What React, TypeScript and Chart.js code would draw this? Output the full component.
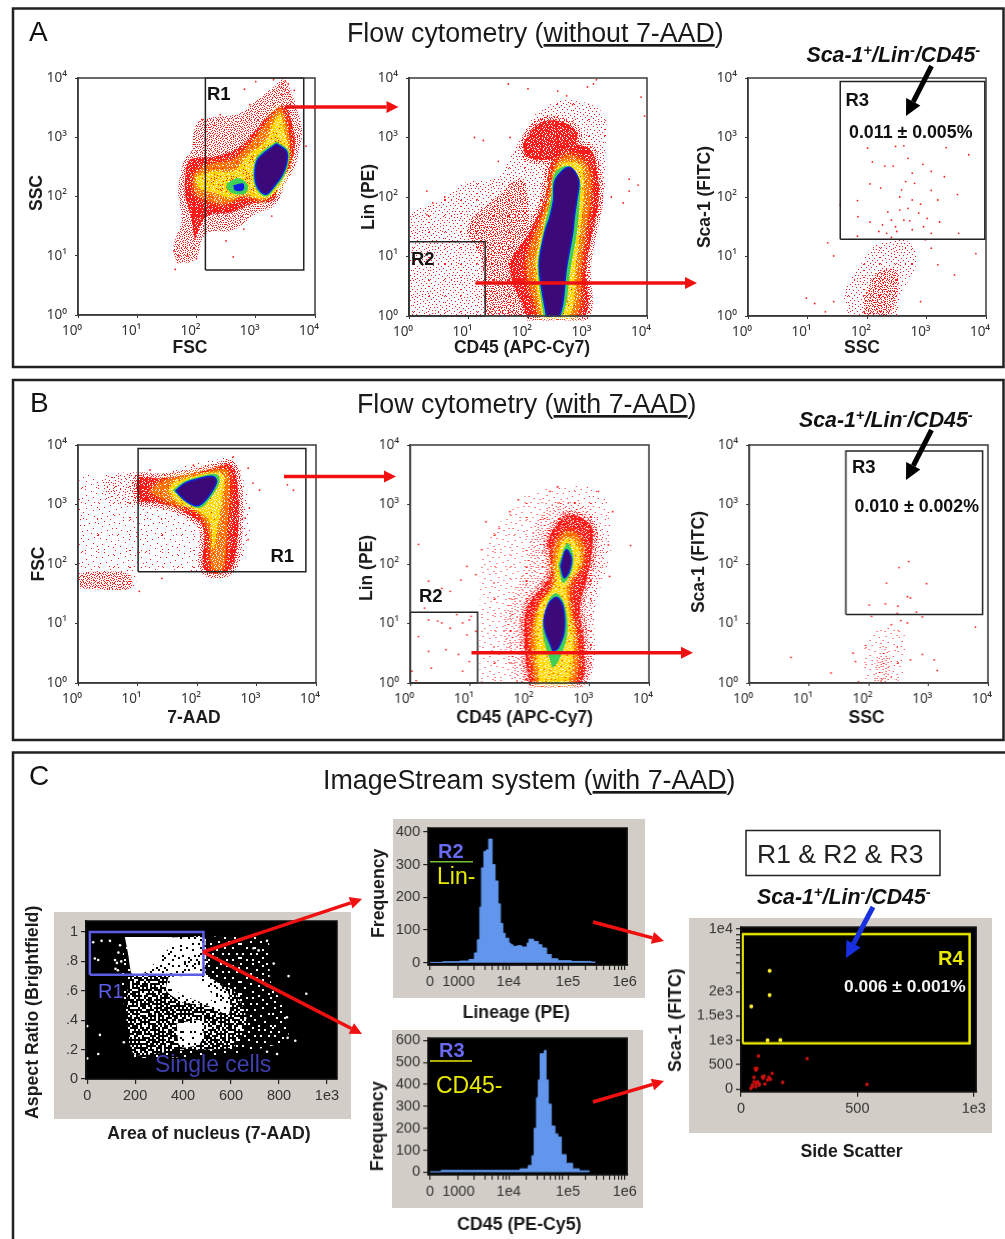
import React, { useEffect, useRef } from "react";
import { Chart, registerables } from "chart.js";

Chart.register(...registerables);

type P = [number, number];

// ---------- tick labels ----------
const decades = [0, 1, 2, 3, 4];
const decadeLabels = ["10⁰", "10¹", "10²", "10³", "10⁴"];

// ---------- Panel A, FSC / SSC (log10 of the channel values) ----------
const a1Sparse: P[] = [[1.67,.87],[1.97,.93],[2.17,1.38],[2.62,1.43],[3.02,1.72],[3.3,1.83],[3.47,2.17],[3.69,2.67],[3.78,3.12],[3.63,3.68],[3.47,3.97],[3.3,3.85],[3.02,3.63],[2.73,3.4],[2.4,3.35],[2.06,3.29],[1.95,3.07],[1.92,2.78],[1.75,2.45],[1.69,2.05],[1.75,1.6],[1.61,1.15]];
const a1Dense: P[] = [[1.97,1.27],[2.17,1.66],[2.57,1.72],[2.96,1.88],[3.3,1.94],[3.41,2.25],[3.58,2.5],[3.66,2.9],[3.58,3.35],[3.49,3.54],[3.24,3.4],[3.02,3.15],[2.85,2.95],[2.62,2.78],[2.28,2.67],[1.89,2.62],[1.81,2.33],[1.81,2],[1.89,1.72]];
const a1Orange: P[] = [[1.95,2.39],[2.28,2.56],[2.62,2.62],[2.96,2.95],[3.18,3.23],[3.41,3.49],[3.52,3.23],[3.58,2.84],[3.52,2.45],[3.35,2.11],[3.13,1.94],[2.79,2],[2.51,1.88],[2.17,1.94],[1.97,2.08]];
const a1Yellow: P[] = [[1.98,2.33],[2.28,2.42],[2.62,2.42],[2.88,2.7],[3.18,2.95],[3.3,3.23],[3.41,3.38],[3.49,3.07],[3.56,2.67],[3.47,2.33],[3.27,2.03],[3.07,1.97],[2.79,2.06],[2.57,1.98],[2.28,2.08],[2.06,2.14]];
const a1Green: P[] = [[3.35,2.93],[3.55,2.78],[3.55,2.55],[3.47,2.33],[3.35,2.17],[3.18,2],[3.04,2.08],[2.96,2.28],[2.99,2.62],[3.13,2.78]];
const a1Purple: P[] = [[3.35,2.89],[3.52,2.76],[3.52,2.56],[3.44,2.35],[3.33,2.2],[3.18,2.04],[3.06,2.11],[2.99,2.3],[3.02,2.6],[3.15,2.74]];
const a1SmallGreen: P[] = [[2.51,2.22],[2.71,2.31],[2.87,2.19],[2.82,2.05],[2.62,2.05],[2.51,2.14]];
const a1SmallBlue: P[] = [[2.62,2.19],[2.79,2.22],[2.79,2.11],[2.65,2.1]];
const a1Dots: P[] = [[1.64,.77],[1.62,1.08],[1.7,1],[1.85,1],[2,.95],[2.62,.98],[2.5,1.25],[2.8,1.45],[3.27,1.67],[3,3.94],[2.81,3.81],[3.3,3.97],[3.65,3.79],[3.85,2.85],[2.4,3.38],[2.3,3.2],[2.09,3.3],[2.9,3.55],[3.45,3.9],[3.5,3.95],[3.55,3.75],[3.4,3.85],[3.5,3.8],[3.55,3.9],[3.45,3.72],[3.6,3.6]];
const a1Gate: P[] = [[2.15,.76],[3.81,.76],[3.81,4],[2.15,4],[2.15,.76]];

// ---------- Panel A, CD45 / Lin ----------
const a2Sparse: P[] = [[.02,0],[.02,1.67],[.55,1.95],[.91,2.23],[1.48,2.34],[1.77,2.79],[1.99,3.18],[2.2,3.46],[2.69,3.63],[3.26,3.41],[3.3,2.79],[3.26,1.95],[3.01,1.11],[2.9,0]];
const a2Medium: P[] = [[1.27,0],[1.2,1],[.98,1.5],[1.48,2],[1.9,2.3],[2,1.4],[1.7,.8],[1.98,0]];
const a2Blob: P[] = [[1.91,2.9],[2.19,3.24],[2.55,3.27],[2.83,3.07],[2.69,2.68],[2.26,2.62],[1.98,2.68]];
const a2Dense: P[] = [[1.98,0],[1.69,.83],[2.01,1.39],[2.27,1.95],[2.37,2.51],[2.55,2.79],[2.7,2.9],[3.05,2.79],[3.15,2.51],[3.19,1.95],[3.08,1.39],[2.98,.83],[2.94,0]];
const a2Orange: P[] = [[2.16,0],[1.98,.83],[2.12,1.39],[2.33,1.95],[2.44,2.51],[2.69,2.71],[3.01,2.51],[3.05,1.95],[2.97,1.39],[2.9,.83],[2.8,0]];
const a2Yellow: P[] = [[2.23,0],[2.12,.83],[2.23,1.39],[2.38,1.95],[2.51,2.51],[2.69,2.59],[2.9,2.51],[2.93,1.95],[2.87,1.39],[2.8,.83],[2.69,0]];
const a2Green: P[] = [[2.26,0],[2.16,.83],[2.25,1.39],[2.38,1.95],[2.45,2.4],[2.69,2.52],[2.87,2.29],[2.87,1.95],[2.82,1.39],[2.72,.83],[2.57,0]];
const a2Purple: P[] = [[2.31,0],[2.19,.83],[2.28,1.39],[2.37,1.67],[2.43,1.95],[2.46,2.29],[2.69,2.5],[2.85,2.29],[2.82,1.95],[2.78,1.67],[2.75,1.39],[2.65,.83],[2.53,0]];
const a2Dots: P[] = [[1.67,3.9],[2,3.82],[2.5,3.78],[2.65,3.7],[2.75,3.55],[3,3.85],[3.15,3.97],[3.1,3.9],[3.9,3.68],[3.96,3.36],[3.2,2.2],[3.7,2.3],[3.85,2.2],[3.7,2.1],[3.4,2],[3.6,1.9],[1.1,3],[1.25,2.95],[.3,2.1],[.4,1.9],[.6,2],[.3,1.7],[1.5,2.6],[1.7,3]];
const a2Gate: P[] = [[0,0],[1.28,0],[1.28,1.25],[0,1.25],[0,0]];

// ---------- Panel A, SSC / Sca-1 ----------
const a3Medium: P[] = [[1.69,0],[1.62,.38],[1.87,.83],[2.19,1.22],[2.69,1.25],[2.83,.89],[2.55,.32],[2.48,0]];
const a3Dense: P[] = [[1.94,0],[1.98,.38],[2.16,.72],[2.48,.77],[2.51,.38],[2.33,0]];
const a3Dots: P[] = [[2.01,2.82],[2.48,2.85],[2.62,2.86],[3.33,2.83],[3.71,2.71],[2.09,2.59],[2.69,2.65],[2.94,2.55],[2.3,2.52],[2.44,2.52],[2.76,2.4],[3.08,2.43],[3.3,2.34],[2.05,2.22],[2.65,2.26],[2.8,2.23],[2.23,2.15],[3.08,2.11],[3.52,2.04],[1.84,1.94],[2.55,2],[2.76,1.95],[3.19,1.95],[1.85,1.67],[2.05,1.58],[2.41,1.61],[2.55,1.78],[2.69,1.81],[2.87,1.73],[3.01,1.64],[3.22,1.58],[2.26,1.53],[2.48,1.5],[2.62,1.61],[2.76,1.45],[3.08,1.39],[1.84,1.34],[2.33,1.39],[3.54,1.39],[2.41,1.32],[1.55,1.87],[1.34,1.23],[1.44,1.01],[.98,.3],[1.12,.21],[1.3,.07],[1.44,.24],[3.19,.86],[3.47,.69],[3.83,1.05],[2.9,.24],[3.08,1.14],[2.98,1.28],[2.58,2.12],[2.9,1.88],[2.35,1.75],[2.5,1.42],[2.72,1.6],[2.95,1.5],[2.2,1.42]];
const a3Gate: P[] = [[1.55,1.29],[3.98,1.29],[3.98,3.94],[1.55,3.94],[1.55,1.29]];

// ---------- Panel B, 7-AAD / FSC ----------
const b1Sparse: P[] = [[.02,1.59],[.93,1.59],[1.04,1.87],[2.61,1.87],[2.87,2.38],[2.89,2.94],[2.72,3.61],[2.61,3.8],[2.27,3.74],[1.83,3.66],[1.38,3.52],[.37,3.49],[.03,3.44],[.02,2.66]];
const b1Low: P[] = [[.03,1.59],[.87,1.59],[.87,1.82],[.37,1.87],[.03,1.82]];
const b1Band: P[] = [[.45,3.08],[1.05,3.0],[1.2,3.48],[.45,3.46]];
const b1Dense: P[] = [[1.01,3.05],[1.49,2.99],[1.88,2.82],[2.11,2.6],[2.13,1.9],[2.55,1.9],[2.69,2.55],[2.69,3.22],[2.58,3.66],[2.27,3.61],[1.83,3.5],[1.38,3.44],[1.01,3.44]];
const b1Orange: P[] = [[1.21,3.22],[1.55,3.02],[1.99,2.88],[2.19,2.55],[2.25,1.93],[2.44,1.93],[2.5,2.55],[2.55,3.27],[2.5,3.58],[2.16,3.55],[1.71,3.47],[1.38,3.38]];
const b1Yellow: P[] = [[1.52,3.24],[1.71,3.02],[1.99,2.91],[2.22,2.71],[2.27,2.27],[2.33,2.55],[2.41,3.05],[2.44,3.5],[2.16,3.52],[1.83,3.44],[1.6,3.36]];
const b1Green: P[] = [[1.59,3.24],[1.83,3.02],[2.05,2.94],[2.22,3.1],[2.38,3.38],[2.33,3.51],[2.05,3.47],[1.77,3.38]];
const b1Purple: P[] = [[1.64,3.23],[1.83,3.05],[2.02,2.98],[2.19,3.13],[2.33,3.38],[2.27,3.47],[2.05,3.44],[1.8,3.36]];
const b1Dots: P[] = [[1.41,1.76],[1.03,1.54],[3.62,3.24],[3.52,3.33],[3.05,3.24],[2.94,3.36],[2.86,3.61],[2.88,2.94],[2.61,3.8],[2.81,2.77],[2.86,2.41],[1.94,3.66],[1.21,3.58]];
const b1Gate: P[] = [[1.01,1.87],[3.83,1.87],[3.83,3.94],[1.01,3.94],[1.01,1.87]];

// ---------- Panel B, CD45 / Lin ----------
const b2Sparse: P[] = [[1.17,0],[1.17,1.26],[1.24,2.27],[1.67,2.88],[2.09,3.22],[3.16,3.22],[3.37,2.38],[3.09,1.26],[2.88,0]];
const b2Medium: P[] = [[1.75,0],[1.55,1],[1.9,1.9],[2.1,2.7],[2.5,3.05],[3.05,2.9],[3.25,2.2],[3.1,1.3],[2.95,0]];
const b2Dense: P[] = [[1.99,0],[1.91,.7],[1.95,1.26],[2.34,1.82],[2.31,2.38],[2.45,2.66],[2.66,2.83],[3.02,2.66],[3.06,2.38],[2.98,1.82],[2.84,1.26],[2.91,.7],[2.84,0]];
const b2Orange: P[] = [[2.09,0],[2.02,.7],[2.13,1.26],[2.38,1.65],[2.38,2.04],[2.45,2.38],[2.66,2.55],[2.88,2.38],[2.91,2.04],[2.7,1.65],[2.7,1.26],[2.8,.7],[2.73,0]];
const b2Yellow: P[] = [[2.16,0],[2.11,.7],[2.16,1.26],[2.43,1.65],[2.45,1.99],[2.52,2.32],[2.65,2.43],[2.8,2.32],[2.84,1.99],[2.62,1.65],[2.66,1.26],[2.73,.7],[2.62,0]];
const b2GreenLow: P[] = [[2.38,.25],[2.22,.87],[2.31,1.37],[2.45,1.51],[2.59,1.31],[2.63,.81],[2.48,.36]];
const b2PurpleLow: P[] = [[2.39,.53],[2.24,.98],[2.31,1.31],[2.45,1.44],[2.56,1.29],[2.58,.87],[2.48,.59]];
const b2GreenHigh: P[] = [[2.48,1.99],[2.63,2.35],[2.73,2.15],[2.7,1.87],[2.56,1.68]];
const b2PurpleHigh: P[] = [[2.52,1.96],[2.61,2.24],[2.7,2.1],[2.66,1.87],[2.58,1.77]];
const b2Dots: P[] = [[2.47,3.3],[2.34,3.22],[3.15,3.22],[3.39,2.88],[3.69,2.31],[3.32,2.32],[3.34,1.79],[3.09,2.49],[1.81,3.08],[1.67,2.88],[1.27,2.71],[1.49,2.6],[.14,2.33],[1.2,2.24],[.95,1.96],[.31,1.71],[.85,1.73],[.53,1.59],[1.1,1.82],[.67,1.54],[.24,1.26],[.31,1.06],[.46,1.04],[.53,1.01],[.14,.78],[.31,.53],[.35,.25],[.03,.2],[.6,.56],[.81,.48],[.95,.81],[1.02,1.12],[1.1,.87],[.99,.36],[.88,.2],[.78,1.15],[.1,.04],[.67,.92],[.99,1.06],[.88,1.01]];
const b2Gate: P[] = [[0,0],[1.13,0],[1.13,1.19],[0,1.19],[0,0]];

// ---------- Panel B, SSC / Sca-1 ----------
const b3Sparse: P[] = [[1.96,0],[1.92,.53],[2.06,.87],[2.53,.9],[2.63,.53],[2.46,0]];
const b3Dense: P[] = [[2.1,0],[2.13,.42],[2.31,.59],[2.38,.25],[2.38,0]];
const b3Dots: P[] = [[2.67,2.04],[2.51,1.94],[2.3,1.68],[2.97,1.67],[2.65,1.45],[2.7,1.43],[2.01,1.31],[2.28,1.33],[2.49,1.29],[2.48,1.17],[2.8,1.19],[2.9,1.11],[2.05,1.12],[3.79,.94],[2.54,1.05],[2.38,.98],[2.65,1.01],[.7,.43],[1.37,.17],[3.1,.39],[3.15,.21],[2.7,.39],[2.9,.48],[1.74,.5],[1.78,.36],[1.83,.02]];
const b3Gate: P[] = [[1.62,1.15],[3.91,1.15],[3.91,3.9],[1.62,3.9],[1.62,1.15]];

// ---------- Panel C, area of nucleus / aspect ratio ----------
const c1Sparse: P[] = [[164,.966],[485,.966],[750,.955],[764,.67],[833,.445],[833,.265],[610,.174],[192,.152],[171,.333],[137,.717]];
const c1Medium: P[] = [[374,.955],[485,.966],[499,.695],[610,.604],[666,.4],[610,.219],[387,.197],[192,.174],[178,.695]];
const c1DenseTop: P[] = [[300,.96],[490,.96],[490,.72],[230,.72]];
const c1DenseMid: P[] = [[340,.7],[500,.7],[590,.58],[590,.44],[500,.5],[400,.52],[330,.6]];
const c1SolidTop: P[] = [[157,.966],[332,.966],[374,.95],[318,.85],[234,.717],[185,.717],[171,.85]];
const c1SolidMid: P[] = [[346,.695],[457,.695],[527,.559],[499,.514],[415,.559],[346,.627]];
const c1DenseLow: P[] = [[373,.378],[485,.4],[471,.242],[387,.219]];
const c1Dots: P[] = [[25,.93],[60,.94],[95,.94],[46,.81],[32,.82],[116,.81],[130,.86],[137,.91],[53,.3],[46,.17],[153,.25],[0,.14],[0,.36],[914,.58],[836,.28],[868,.26],[833,.42],[750,.94],[694,.89],[715,.875],[778,.785],[840,.7],[792,.17],[750,.185],[118,.75],[124,.79],[142,.8],[128,.74]];
const c1Gate: P[] = [[11,.71],[485,.71],[485,1],[11,1],[11,.71]];

// ---------- Panel C, histograms (log10 intensity, frequency) ----------
const h1Bins = [2.67,2.89,3.17,3.33,3.42,3.47,3.51,3.54,3.58,3.62,3.66,3.7,3.72,3.77,3.82,3.86,3.9,3.94,4,4.03,4.07,4.14,4.22,4.31,4.34,4.42,4.5,4.56,4.64,4.72,4.83,5.06,5.39,5.46];
const h1Freq = [1,3,5,10,30,70,170,290,340,345,378,378,300,250,180,120,90,75,60,55,50,52,48,60,72,65,55,45,25,12,6,4,2,0];
const h2Bins = [2.67,2.86,3.36,3.86,4.19,4.33,4.39,4.43,4.47,4.5,4.53,4.6,4.63,4.67,4.72,4.78,4.83,4.89,4.97,5.08,5.19,5.36];
const h2Freq = [2,8,8,8,15,30,75,200,340,420,540,555,420,310,210,175,160,80,40,15,6,2];
const hTickPos = [2.67,3.15,3.42,3.6,3.72,3.82,3.9,3.96,4,4.3,4.48,4.6,4.7,4.78,4.85,4.9,5,5.3,5.48,5.6,5.7,5.78,5.85,5.9,5.96];
const hTickText: Record<string, string> = { "2.67": "0", "3.15": "1000", "4": "1e4", "5": "1e5", "5.96": "1e6" };
const h1YTicks = [0, 100, 200, 300, 400];
const h2YTicks = [0, 100, 200, 300, 400, 500, 600];

// ---------- Panel C, side scatter / Sca-1 (biexponential channel positions) ----------
const c3YTicks = [0,500,1000,1500,2000,2377,2596,2753,2890,2993,3062,3164,3281];
const c3YText: Record<string, string> = { "0": "0", "500": "500", "1000": "1e3", "1500": "1.5e3", "2000": "2e3", "3281": "1e4" };
const c3Yellow: P[] = [[123,2425],[123,1925],[44,1692],[114,1000],[169,1007]];
const c3Red: P[] = [[75,678],[284,623],[541,96],[179,137],[61,425],[69,425],[64,390],[56,240],[92,253],[99,267],[95,219],[120,240],[127,199],[114,185],[134,322],[56,151],[64,116],[71,151],[78,116],[49,82],[42,14],[49,48],[64,48],[78,82],[103,103]];
const c3Gate: P[] = [[7,938],[982,938],[982,3178],[7,3178],[7,938]];

// ---------- style ----------
const C = { red: "#ff1a1a", orange: "#ff7400", yellow: "#ffd800", green: "#3fd05a", blue: "#1020e0", purple: "#3c0a78", hist: "#6196ec", ink: "#1c1c1c", tick: "#333333" };
const TICK_FONT = "'Noto Sans', 'Liberation Sans', sans-serif";
const TILE_FAINT = ["#.............#.","................","...#............","................",".........#......","................","..............#.","................","....#...........","................","...........#....","#...............","................","......#.........","................","............#..."];
const TILE_SPARSE = ["#.....#......#..","...........#....","...#............","........#.....#.",".#..............",".....#.....#....","..............#.","...#....#.......","...........#....","#..............#",".....#..........",".........#...#..","..#.............","...........#....","......#.........","#.............#."];
const TILE_MEDIUM = ["#..#..#.#...#...","..#.....#.#...#.",".#..#.#....#...#","....#...#.#...#.","#.#...#.....#...","...#.#..#.#...#.",".#....#....#.#..","#..#....#.#....#","..#..#.#....#...","#.....#..#.#..#.","..#.#....#....#.",".#...#.#...#.#..","...#.....#....#.","#.#..#.#..#.#...","....#....#....#.",".#.#..#.#...#..#"];
const TILE_DENSE = ["###.####.###.###","#.####.###.#####","###.#.####.##.##",".#####.##.###.##","###.##.#####.###","##.#####.#.#####","####.##.###.##.#","#.######.####.##","###.#.####.#####","##.####.###.#.##","#####.###.####.#",".##.#####.#.####","####.#.#####.###","##.######.##.#.#","#.###.##.#####.#","####.####.#.####"];
const TILE_ORIENT = [0,5,2,7, 3,1,6,4, 6,2,7,0, 1,4,3,5];

// Stipple fill: the 16-cell tile is laid out 4×4 with flips, so the repeat is not visible.
function stipple(rows: string[], color: string, cell = 1) {
  const n = rows.length;
  const t = document.createElement("canvas");
  t.width = t.height = n * 4 * cell;
  const g = t.getContext("2d")!;
  g.fillStyle = color;
  TILE_ORIENT.forEach((o, q) => {
    const ox = (q % 4) * n, oy = Math.floor(q / 4) * n;
    rows.forEach((r, y) => [...r].forEach((c, x) => {
      if (c !== "#") return;
      let u = o & 1 ? n - 1 - x : x;
      let v = o & 2 ? n - 1 - y : y;
      if (o & 4) [u, v] = [v, u];
      g.fillRect((ox + u) * cell, (oy + v) * cell, cell, cell);
    }));
  });
  return g.createPattern(t, "repeat")!;
}

const asLog = (pts: P[]) => pts.map(([x, y]) => ({ x: 10 ** x, y: 10 ** y }));
const asLin = (pts: P[]) => pts.map(([x, y]) => ({ x, y }));
const area = (data: any[], fill: any, border?: any, bw = 1.5, tension = 0.35) => ({
  data: [...data, data[0]], showLine: true, fill: "shape", tension, backgroundColor: fill, borderColor: border ?? "transparent", borderWidth: border ? bw : 0, pointRadius: 0,
});
const dots = (data: any[], color: string, r = 0.9) => ({ data, showLine: false, pointRadius: r, pointBackgroundColor: color, pointBorderWidth: 0 });
const gate = (data: any[], color = "#222222", w = 1.5) => ({ data, showLine: true, fill: false, borderColor: color, borderWidth: w, pointRadius: 0 });

const frame = (bg?: string) => ({
  id: "frame",
  beforeDatasetsDraw(ch: any) {
    if (!bg) return;
    const { left, top, width, height } = ch.chartArea;
    ch.ctx.fillStyle = bg;
    ch.ctx.fillRect(left, top, width, height);
  },
  afterDatasetsDraw(ch: any) {
    const { left, top, width, height } = ch.chartArea;
    ch.ctx.strokeStyle = bg ? "#111111" : "#3a3a3a";
    ch.ctx.lineWidth = 1.5;
    ch.ctx.strokeRect(left, top, width, height);
  },
});

// Moves each axis title to the centre stored in the scale's titleAt option.
const titlePlacer = {
  id: "titlePlacer",
  afterLayout(ch: any) {
    Object.values(ch.scales).forEach((s: any) => {
      const at = s.options.titleAt as P;
      if (!at || s._placed) return;
      s._placed = true;
      const base = s.drawTitle;
      s.drawTitle = function () {
        const lh = s.options.title.font.size * 1.2;
        const dx = s.isHorizontal() ? at[0] - (s.left + s.right) / 2 : at[0] - (s.left + lh / 2);
        const dy = s.isHorizontal() ? at[1] - (s.bottom - lh / 2) : at[1] - (s.top + s.bottom) / 2;
        s.ctx.save();
        s.ctx.translate(dx, dy);
        base.call(s);
        s.ctx.restore();
      };
    });
  },
};

type Box = { l: number; t: number; r: number; b: number };
type Spec = {
  box: Box;
  m: { left: number; right: number; top: number; bottom: number };
  bg?: string;
  datasets: () => any[];
  x: any;
  y: any;
};

const flowAxis = (title: string, titleAt: P, isX: boolean) => ({
  type: "logarithmic",
  min: 1,
  max: 10000,
  afterBuildTicks: (s: any) => { s.ticks = decades.map((d) => ({ value: 10 ** d })); },
  ticks: {
    autoSkip: false,
    maxRotation: 0,
    minRotation: 0,
    color: C.tick,
    font: { family: TICK_FONT, size: 13.5 },
    padding: isX ? 5 : 8,
    labelOffset: isX ? -6 : 0,
    callback: (v: number) => decadeLabels[Math.round(Math.log10(v))],
  },
  grid: { drawOnChartArea: false, drawTicks: true, tickLength: 3, color: "#333333" },
  border: { color: "#3a3a3a", width: 1.5 },
  title: { display: true, text: title, color: C.ink, padding: 0, font: { family: "Liberation Sans", size: 17.5, weight: "bold" } },
  titleAt,
});

const cAxis = (title: string, titleAt: P, opts: any, vals: number[], label: (v: number) => string) => ({
  type: "linear",
  ...opts,
  afterBuildTicks: (s: any) => { s.ticks = vals.map((value) => ({ value })); },
  ticks: { autoSkip: false, maxRotation: 0, minRotation: 0, color: C.tick, font: { family: "Liberation Sans", size: 14.5 }, padding: 3, callback: (v: number) => label(v) },
  grid: { drawOnChartArea: false, drawTicks: true, tickLength: 5, color: "#222222", lineWidth: 1.2 },
  border: { color: "#111111", width: 1.5 },
  title: { display: true, text: title, color: C.ink, padding: 0, font: { family: "Liberation Sans", size: 17.7, weight: "bold" } },
  titleAt,
});

const flowM = { left: 60, right: 20, top: 22, bottom: 50 };
const t = {
  faint: () => stipple(TILE_FAINT, C.red),
  sparse: () => stipple(TILE_SPARSE, C.red),
  medium: () => stipple(TILE_MEDIUM, C.red),
  dense: () => stipple(TILE_DENSE, C.red),
  orange: () => stipple(TILE_DENSE, C.orange),
  yellow: () => stipple(TILE_DENSE, C.yellow),
  orangeEdge: () => stipple(TILE_MEDIUM, C.orange),
  yellowEdge: () => stipple(TILE_MEDIUM, C.yellow),
  whiteSparse: () => stipple(TILE_SPARSE, "#ffffff", 2),
  whiteMedium: () => stipple(TILE_MEDIUM, "#ffffff", 2),
  whiteDense: () => stipple(TILE_DENSE, "#ffffff", 2),
};
// one band of the density map: the dense red, orange and yellow areas fade out through a stippled edge
const redBand = (d: P[]) => area(asLog(d), t.dense(), t.medium(), 9);
const orangeBand = (d: P[]) => area(asLog(d), t.orange(), t.orangeEdge(), 7);
const yellowBand = (d: P[]) => area(asLog(d), t.yellow(), t.yellowEdge(), 5);

const specs: Spec[] = [
  {
    box: { l: 78, t: 78, r: 315, b: 315 }, m: flowM,
    x: flowAxis("FSC", [190, 348], true), y: flowAxis("SSC", [37, 193], false),
    datasets: () => [
      area(asLog(a1Sparse), t.medium()), redBand(a1Dense), orangeBand(a1Orange), yellowBand(a1Yellow),
      area(asLog(a1Green), C.green), area(asLog(a1Purple), C.purple, C.blue), area(asLog(a1SmallGreen), C.green), area(asLog(a1SmallBlue), C.blue),
      dots(asLog(a1Dots), C.red), gate(asLog(a1Gate)),
    ],
  },
  {
    box: { l: 408.7, t: 78, r: 647, b: 316 }, m: flowM,
    x: flowAxis("CD45 (APC-Cy7)", [521.7, 348], true), y: flowAxis("Lin (PE)", [369, 197], false),
    datasets: () => [
      area(asLog(a2Sparse), t.sparse()), area(asLog(a2Medium), t.medium()), redBand(a2Blob), redBand(a2Dense), orangeBand(a2Orange),
      yellowBand(a2Yellow), area(asLog(a2Green), C.green), area(asLog(a2Purple), C.purple, C.blue),
      dots(asLog(a2Dots), C.red), gate(asLog(a2Gate)),
    ],
  },
  {
    box: { l: 748, t: 78, r: 986, b: 316 }, m: flowM,
    x: flowAxis("SSC", [862, 348], true), y: flowAxis("Sca-1 (FITC)", [705.6, 197], false),
    datasets: () => [area(asLog(a3Medium), t.sparse()), area(asLog(a3Dense), t.medium()), dots(asLog(a3Dots), C.red), gate(asLog(a3Gate))],
  },
  {
    box: { l: 78, t: 445, r: 316, b: 683 }, m: flowM,
    x: flowAxis("7-AAD", [194, 718], true), y: flowAxis("FSC", [39, 564], false),
    datasets: () => [
      area(asLog(b1Sparse), t.faint()), area(asLog(b1Low), t.medium()), area(asLog(b1Band), t.sparse()), redBand(b1Dense), orangeBand(b1Orange),
      yellowBand(b1Yellow), area(asLog(b1Green), C.green), area(asLog(b1Purple), C.purple, C.blue),
      dots(asLog(b1Dots), C.red), gate(asLog(b1Gate)),
    ],
  },
  {
    box: { l: 410.4, t: 445, r: 648.7, b: 683 }, m: flowM,
    x: flowAxis("CD45 (APC-Cy7)", [524.5, 718], true), y: flowAxis("Lin (PE)", [367.6, 568], false),
    datasets: () => [
      area(asLog(b2Sparse), t.faint()), area(asLog(b2Medium), t.sparse()), redBand(b2Dense), orangeBand(b2Orange), yellowBand(b2Yellow),
      area(asLog(b2GreenLow), C.green), area(asLog(b2PurpleLow), C.purple, C.blue), area(asLog(b2GreenHigh), C.green), area(asLog(b2PurpleHigh), C.purple, C.blue),
      dots(asLog(b2Dots), C.red), gate(asLog(b2Gate)),
    ],
  },
  {
    box: { l: 749, t: 445, r: 987.6, b: 683 }, m: flowM,
    x: flowAxis("SSC", [866, 718], true), y: flowAxis("Sca-1 (FITC)", [699.6, 562], false),
    datasets: () => [area(asLog(b3Sparse), t.faint()), area(asLog(b3Dense), t.sparse()), dots(asLog(b3Dots), C.red), gate(asLog(b3Gate))],
  },
  {
    box: { l: 86, t: 920.7, r: 337, b: 1079.3 }, m: { left: 70, right: 10, top: 22, bottom: 70 }, bg: "#000000",
    x: cAxis("Area of nucleus (7-AAD)", [209, 1134], { min: -5, max: 1042 }, [0, 200, 400, 600, 800, 1000], (v) => (v === 1000 ? "1e3" : String(v))),
    y: cAxis("Aspect Ratio (Brightfield)", [33, 1012], { min: 0, max: 1.075 }, [0, 0.2, 0.4, 0.6, 0.8, 1], (v) => (v === 0 ? "0" : v === 1 ? "1" : String(v).slice(1))),
    datasets: () => [
      area(asLin(c1Sparse), t.whiteSparse(), undefined, 0, 0.2), area(asLin(c1Medium), t.whiteMedium(), undefined, 0, 0.2),
      area(asLin(c1DenseTop), t.whiteDense(), undefined, 0, 0.1), area(asLin(c1DenseMid), t.whiteDense(), undefined, 0, 0.2), area(asLin(c1DenseLow), t.whiteDense(), undefined, 0, 0.2),
      area(asLin(c1SolidTop), "#ffffff", undefined, 0, 0.15), area(asLin(c1SolidMid), "#ffffff", undefined, 0, 0.2), dots(asLin(c1Dots), "#ffffff", 1.3), gate(asLin(c1Gate), "#5c5ce6", 2.5),
    ],
  },
  {
    box: { l: 428.3, t: 827.7, r: 630, b: 965 }, m: { left: 60, right: 10, top: 22, bottom: 60 }, bg: "#000000",
    x: cAxis("Lineage (PE)", [516, 1013], { min: 2.64, max: 6 }, hTickPos, (v) => hTickText[String(v)] ?? ""),
    y: cAxis("Frequency", [379.3, 893], { min: -7, max: 412 }, h1YTicks, (v) => String(v)),
    datasets: () => [{ data: h1Bins.map((x, i) => ({ x, y: h1Freq[i] })), showLine: true, stepped: true, fill: "origin", backgroundColor: C.hist, borderColor: C.hist, borderWidth: 1, pointRadius: 0 }],
  },
  {
    box: { l: 428.3, t: 1038.3, r: 630, b: 1175 }, m: { left: 60, right: 10, top: 22, bottom: 60 }, bg: "#000000",
    x: cAxis("CD45 (PE-Cy5)", [519, 1224], { min: 2.64, max: 6 }, hTickPos, (v) => hTickText[String(v)] ?? ""),
    y: cAxis("Frequency", [378, 1126], { min: -12, max: 611 }, h2YTicks, (v) => String(v)),
    datasets: () => [{ data: h2Bins.map((x, i) => ({ x, y: h2Freq[i] })), showLine: true, stepped: true, fill: "origin", backgroundColor: C.hist, borderColor: C.hist, borderWidth: 1, pointRadius: 0 }],
  },
  {
    box: { l: 741, t: 927.3, r: 979.3, b: 1091.7 }, m: { left: 80, right: 10, top: 22, bottom: 70 }, bg: "#000000",
    x: cAxis("Side Scatter", [851.5, 1151.6], { min: 0, max: 1010 }, [0, 500, 1000], (v) => (v === 1000 ? "1e3" : String(v))),
    y: cAxis("Sca-1 (FITC)", [676, 1020], { min: -55, max: 3320 }, c3YTicks, (v) => c3YText[String(v)] ?? ""),
    datasets: () => [dots(asLin(c3Red), "#c81010", 1.8), dots(asLin(c3Yellow), "#ffee30", 2), gate(asLin(c3Gate), "#e8e800", 2.5)],
  },
];

function Plot({ spec }: { spec: Spec }) {
  const ref = useRef<HTMLCanvasElement>(null);
  const { box, m } = spec;
  const w = box.r - box.l + m.left + m.right;
  const h = box.b - box.t + m.top + m.bottom;
  const x0 = box.l - m.left;
  const y0 = box.t - m.top;
  useEffect(() => {
    const shift = (at: P): P => [at[0] - x0, at[1] - y0];
    const x = { ...spec.x, position: "bottom", titleAt: shift(spec.x.titleAt), afterFit: (s: any) => { s.height = m.bottom; } };
    const y = { ...spec.y, position: "left", titleAt: shift(spec.y.titleAt), afterFit: (s: any) => { s.width = m.left; } };
    const chart = new Chart(ref.current!, {
      type: "scatter",
      data: { datasets: spec.datasets().map((d, i, all) => ({ ...d, order: all.length - i })) },
      options: {
        animation: false,
        responsive: false,
        events: [],
        clip: false,
        layout: { autoPadding: false, padding: { top: m.top, right: m.right, left: 0, bottom: 0 } },
        plugins: { legend: { display: false }, tooltip: { enabled: false } },
        scales: { x, y },
      } as any,
      plugins: [frame(spec.bg), titlePlacer],
    } as any);
    return () => chart.destroy();
  }, []);
  return <canvas ref={ref} width={w} height={h} style={{ position: "absolute", left: x0, top: y0, width: w, height: h }} />;
}

const Arrow = ({ x1, y1, x2, y2, color, w = 3.5, head = 12, hw = 6 }: any) => {
  const a = Math.atan2(y2 - y1, x2 - x1);
  const c = Math.cos(a), s = Math.sin(a);
  const bx = x2 - head * c, by = y2 - head * s;
  return (
    <g>
      <line x1={x1} y1={y1} x2={bx} y2={by} stroke={color} strokeWidth={w} />
      <polygon points={`${x2},${y2} ${bx - hw * s},${by + hw * c} ${bx + hw * s},${by - hw * c}`} fill={color} />
    </g>
  );
};

const Sca = ({ x, y, size = 21.3 }: any) => (
  <text x={x} y={y} fontSize={size} fontWeight="bold" fontStyle="italic" fill="#111">
    Sca-1<tspan dy={-7} fontSize={size * 0.7}>+</tspan>
    <tspan dy={7}>/Lin</tspan><tspan dy={-7} fontSize={size * 0.7}>-</tspan>
    <tspan dy={7}>/CD45</tspan><tspan dy={-7} fontSize={size * 0.7}>-</tspan>
  </text>
);

const Txt = ({ x, y, s, c = "#111", w = "bold", children }: any) => (
  <text x={x} y={y} fontSize={s} fill={c} fontWeight={w}>{children}</text>
);

const Head = ({ x, y, pre, mark, post }: any) => (
  <text x={x} y={y} fontSize={26.8} fill="#1a1a1a">
    {pre}<tspan textDecoration="underline">{mark}</tspan>{post}
  </text>
);

const greys = [
  { l: 54.3, t: 912, r: 350.7, b: 1119 },
  { l: 393.3, t: 819.3, r: 645, b: 998.3 },
  { l: 392.3, t: 1030, r: 643.3, b: 1208.3 },
  { l: 689.3, t: 917.7, r: 991.7, b: 1132.7 },
];

export default function App() {
  return (
    <div style={{ position: "absolute", left: 0, top: 0, width: 1005, height: 1239, overflow: "hidden", background: "#fff", fontFamily: "'Liberation Sans', Arial, sans-serif", filter: "blur(0.35px)" }}>
      {greys.map((g, i) => (
        <div key={i} style={{ position: "absolute", left: g.l, top: g.t, width: g.r - g.l, height: g.b - g.t, background: "#d2cec7" }} />
      ))}
      {specs.map((s, i) => <Plot key={i} spec={s} />)}
      <svg width={1005} height={1239} style={{ position: "absolute", left: 0, top: 0, pointerEvents: "none" }} fontFamily="'Liberation Sans', Arial, sans-serif">
        <rect x={13} y={8.5} width={990.5} height={358.5} fill="none" stroke="#222" strokeWidth={2.5} />
        <rect x={13} y={380} width={990.5} height={360} fill="none" stroke="#222" strokeWidth={2.5} />
        <path d="M13 1239 V752.5 H1005" fill="none" stroke="#222" strokeWidth={2.5} />

        <Txt x={29} y={41} s={28} w="normal">A</Txt>
        <Txt x={30} y={412} s={28} w="normal">B</Txt>
        <Txt x={29} y={785} s={28} w="normal">C</Txt>
        <Head x={347} y={42} pre="Flow cytometry (" mark="without 7-AAD" post=")" />
        <Head x={357} y={413} pre="Flow cytometry (" mark="with 7-AAD" post=")" />
        <Head x={323} y={789} pre="ImageStream system (" mark="with 7-AAD" post=")" />

        <Sca x={806.5} y={62} />
        <Sca x={799} y={427} />
        <Sca x={757} y={904} />

        <Txt x={207} y={100} s={18.5}>R1</Txt>
        <Txt x={411} y={265} s={18.5}>R2</Txt>
        <Txt x={845.5} y={106} s={18.5}>R3</Txt>
        <Txt x={849} y={138} s={17.8}>0.011 ± 0.005%</Txt>
        <Txt x={270.5} y={562} s={18.5}>R1</Txt>
        <Txt x={419} y={602} s={18.5}>R2</Txt>
        <Txt x={852} y={473} s={18.5}>R3</Txt>
        <Txt x={854.5} y={512} s={17.8}>0.010 ± 0.002%</Txt>

        <Txt x={98} y={998} s={20} c="#5c5ce6" w="normal">R1</Txt>
        <Txt x={155} y={1072} s={23} c="#3f3fb0" w="normal">Single cells</Txt>
        <Txt x={438} y={858} s={20} c="#6a6af0">R2</Txt>
        <line x1={430} y1={861.7} x2={473} y2={861.7} stroke="#78c030" strokeWidth={1.5} />
        <Txt x={437} y={884} s={23} c="#e8e800" w="normal">Lin-</Txt>
        <Txt x={439} y={1057} s={20} c="#6a6af0">R3</Txt>
        <line x1={430} y1={1061} x2={472} y2={1061} stroke="#e8e800" strokeWidth={1.5} />
        <Txt x={436} y={1093} s={23} c="#e8e800" w="normal">CD45-</Txt>
        <Txt x={938} y={965} s={20} c="#e8e800">R4</Txt>
        <Txt x={844} y={992} s={17.4} c="#f4f4f4">0.006 ± 0.001%</Txt>

        <rect x={746} y={830.5} width={194} height={45} fill="#fff" stroke="#222" strokeWidth={1.5} />
        <Txt x={757} y={863} s={26.5} c="#222" w="normal">R1 &amp; R2 &amp; R3</Txt>

        <Arrow x1={285} y1={107} x2={398.5} y2={107} color="#f01010" />
        <Arrow x1={475.5} y1={283} x2={697} y2={283} color="#f01010" />
        <Arrow x1={284} y1={476.5} x2={396} y2={476.5} color="#f01010" />
        <Arrow x1={471.5} y1={652.7} x2={693} y2={652.7} color="#f01010" />
        <Arrow x1={931.5} y1={66} x2={906} y2={116} color="#000" w={5} head={16} hw={8} />
        <Arrow x1={931.5} y1={430} x2={906} y2={480} color="#000" w={5} head={16} hw={8} />
        <Arrow x1={203} y1={952} x2={362} y2={899} color="#f01010" />
        <Arrow x1={203} y1={952} x2={362} y2={1034} color="#f01010" />
        <Arrow x1={593} y1={922} x2={664} y2={941} color="#f01010" />
        <Arrow x1={593} y1={1102} x2={664} y2={1081} color="#f01010" />
        <Arrow x1={873} y1={907} x2={846} y2={958} color="#1830e0" w={5} head={16} hw={8} />
      </svg>
    </div>
  );
}
